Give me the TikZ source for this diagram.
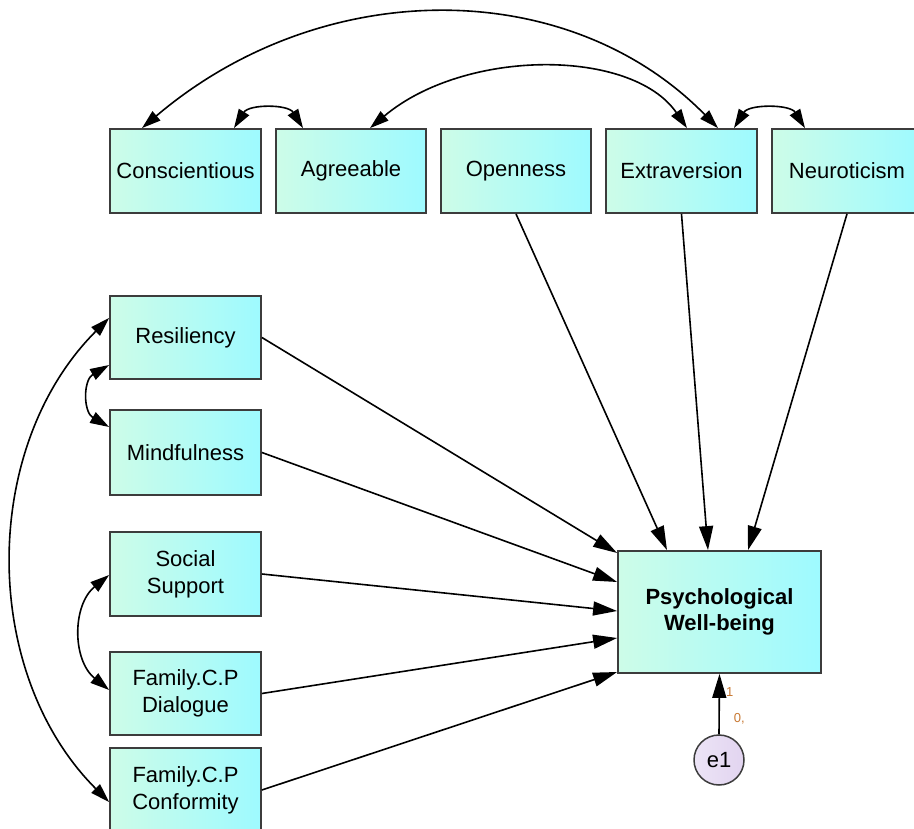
\documentclass[tikz,border=0pt]{standalone}
\usepackage{fontspec}
\setmainfont{Liberation Sans}
\usetikzlibrary{arrows.meta,calc}
\definecolor{mintL}{RGB}{205,252,232}
\definecolor{cyanR}{RGB}{158,250,255}
\definecolor{boxborder}{RGB}{60,60,60}
\definecolor{lavL}{RGB}{236,228,246}
\definecolor{lavR}{RGB}{226,212,240}
\definecolor{lblorange}{RGB}{200,120,50}
\tikzset{
  vbox/.style={draw=boxborder, line width=1.8pt, left color=mintL, right color=cyanR,
    minimum width=151pt, minimum height=84pt, inner sep=0pt, align=center,
    font=\fontsize{22}{27}\selectfont},
  errc/.style={circle, draw=boxborder, line width=1.5pt, left color=lavL, right color=lavR,
    minimum size=50pt, inner sep=0pt, font=\fontsize{22}{26}\selectfont},
  patharrow/.style={line width=1.6pt, -{Triangle[length=24pt,width=14pt]}},
  covarrow/.style={line width=1.6pt, {Triangle[length=19pt,width=12pt]}-{Triangle[length=19pt,width=12pt]}},
  smalllbl/.style={font=\fontsize{13}{15}\selectfont, text=lblorange, inner sep=0pt}
}
\begin{document}
\begin{tikzpicture}[x=1pt,y=-1pt]
\useasboundingbox[fill=white] (0,0) rectangle (914,829);
% top row
\node[vbox] (con) at (185.5,171) {Conscientious};
\node[vbox, minimum width=150pt] (agr) at (351,171) {Agreeable};
\node[vbox, minimum width=150pt] (ope) at (516,171) {Openness};
\node[vbox] (ext) at (681.5,171) {Extraversion};
\node[vbox, minimum width=150pt] (neu) at (847,171) {Neuroticism};
% left column
\node[vbox, minimum height=83pt] (res) at (185.5,337.5) {Resiliency};
\node[vbox, minimum height=85pt] (mind) at (185.5,452.5) {Mindfulness};
\node[vbox] (soc) at (185.5,574) {Social\\Support};
\node[vbox, minimum height=83pt] (dia) at (185.5,693.5) {Family.C.P\\Dialogue};
\node[vbox] (conf) at (185.5,790) {Family.C.P\\Conformity};
% outcome
\node[vbox, minimum width=203pt, minimum height=122pt, font=\fontsize{22}{26}\selectfont\bfseries] (pw) at (719.5,612) {Psychological\\Well-being};
\node[errc] (e1) at (719,760) {e1};
% regression paths
\draw[patharrow] (res.east) -- ([yshift=59pt]pw.west);
\draw[patharrow] (mind.east) -- ([yshift=30pt]pw.west);
\draw[patharrow] (soc.east) -- ([yshift=1pt]pw.west);
\draw[patharrow] (dia.east) -- ([yshift=-26pt]pw.west);
\draw[patharrow] (conf.east) -- ([yshift=-60pt]pw.west);
\draw[patharrow] (ope.south) -- ([xshift=-52.5pt]pw.north);
\draw[patharrow] (ext.south) -- ([xshift=-11.5pt]pw.north);
\draw[patharrow] (neu.south) -- ([xshift=28.5pt]pw.north);
\draw[patharrow] (e1.north) -- (pw.south)
  node[smalllbl, pos=0.7, right=6pt] (lone) {1}
  node[smalllbl, pos=0.25, right=14pt] (lzero) {0,};
% covariances
\draw[covarrow] ([xshift=-43.5pt]con.north) .. controls +(180,-153) and +(-150,-153) .. ([xshift=36.5pt]ext.north);
\draw[covarrow] ([xshift=19pt]agr.north) .. controls +(95,-80) and +(-55,-80) .. ([xshift=5.5pt]ext.north);
\draw[covarrow] ([xshift=48.5pt]con.north) .. controls +(15,-24) and +(-15,-24) .. ([xshift=-48pt]agr.north);
\draw[covarrow] ([xshift=52.5pt]ext.north) .. controls +(15,-24) and +(-15,-24) .. ([xshift=-42pt]neu.north);
\draw[covarrow] ([yshift=-27.5pt]res.west) .. controls +(-26,15) and +(-26,-15) .. ([yshift=25.5pt]mind.west);
\draw[covarrow] ([yshift=-1pt]soc.west) .. controls +(-37,30) and +(-37,-30) .. ([yshift=3.5pt]dia.west);
\draw[covarrow] ([yshift=19.5pt]res.west) .. controls +(-129,129) and +(-129,-129) .. ([yshift=-12pt]conf.west);
\end{tikzpicture}
\end{document}
